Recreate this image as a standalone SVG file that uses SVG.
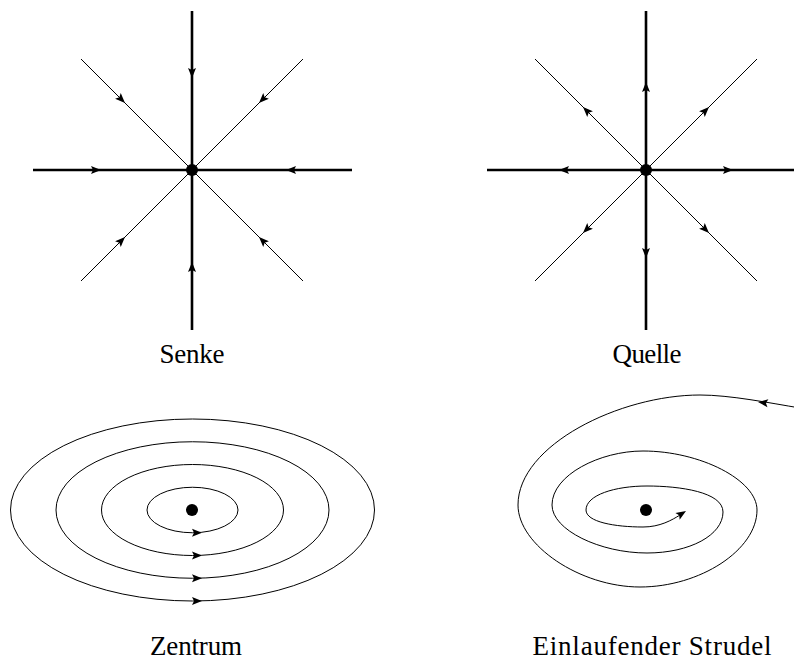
<svg xmlns="http://www.w3.org/2000/svg" xmlns:xlink="http://www.w3.org/1999/xlink" width="794" height="661" viewBox="0 0 794 661">
<style>
.thick{stroke:#000;stroke-width:2.6;fill:none}
.thin{stroke:#000;stroke-width:1;fill:none}
.dot{fill:#000}
.lbl{font-family:"Liberation Serif","DejaVu Serif",serif;font-size:27px;fill:#000;text-anchor:middle}
</style>
<defs>
<path id="ah" d="M0,0 L-10,-4 L-8,0 L-10,4 Z" fill="#000"/>
</defs>
<rect width="794" height="661" fill="#fff"/>
<g id="senke">
<g class="connectors">
<line class="thick" x1="192" y1="11" x2="192" y2="330"/>
<line class="thick" x1="33" y1="170" x2="352" y2="170"/>
<line class="thin" x1="81" y1="59" x2="303" y2="281"/>
<line class="thin" x1="303" y1="59" x2="81" y2="281"/>
<use xlink:href="#ah" transform="translate(192,78) rotate(90)"/>
<use xlink:href="#ah" transform="translate(192,262) rotate(-90)"/>
<use xlink:href="#ah" transform="translate(101,170)"/>
<use xlink:href="#ah" transform="translate(286,170) rotate(180)"/>
<use xlink:href="#ah" transform="translate(125,103) rotate(45)"/>
<use xlink:href="#ah" transform="translate(259,103) rotate(135)"/>
<use xlink:href="#ah" transform="translate(125,237) rotate(-45)"/>
<use xlink:href="#ah" transform="translate(259,237) rotate(-135)"/>
</g>
<circle class="dot" cx="192" cy="170" r="6"/>
<text class="lbl" x="192" y="363" textLength="65" lengthAdjust="spacing">Senke</text>
</g>
<g id="quelle">
<g class="connectors">
<line class="thick" x1="646" y1="11" x2="646" y2="330"/>
<line class="thick" x1="487" y1="170" x2="794" y2="170"/>
<line class="thin" x1="535" y1="59" x2="757" y2="281"/>
<line class="thin" x1="757" y1="59" x2="535" y2="281"/>
<use xlink:href="#ah" transform="translate(646,82) rotate(-90)"/>
<use xlink:href="#ah" transform="translate(646,258) rotate(90)"/>
<use xlink:href="#ah" transform="translate(559,170) rotate(180)"/>
<use xlink:href="#ah" transform="translate(733,170)"/>
<use xlink:href="#ah" transform="translate(583,107) rotate(-135)"/>
<use xlink:href="#ah" transform="translate(709,107) rotate(-45)"/>
<use xlink:href="#ah" transform="translate(583,233) rotate(135)"/>
<use xlink:href="#ah" transform="translate(709,233) rotate(45)"/>
</g>
<circle class="dot" cx="646" cy="170" r="6"/>
<text class="lbl" x="647" y="363" textLength="69" lengthAdjust="spacing">Quelle</text>
</g>
<g id="zentrum">
<g class="connectors">
<ellipse class="thin" cx="192.5" cy="510" rx="45.5" ry="22.75"/>
<ellipse class="thin" cx="192.5" cy="510" rx="91" ry="45.5"/>
<ellipse class="thin" cx="192.5" cy="510" rx="136.5" ry="68.25"/>
<ellipse class="thin" cx="192.5" cy="510" rx="182" ry="91"/>
<use xlink:href="#ah" transform="translate(202,532.75)"/>
<use xlink:href="#ah" transform="translate(202,555.5)"/>
<use xlink:href="#ah" transform="translate(202,578.25)"/>
<use xlink:href="#ah" transform="translate(202,601)"/>
</g>
<circle class="dot" cx="192" cy="510" r="6"/>
<text class="lbl" x="196" y="655" textLength="92" lengthAdjust="spacing">Zentrum</text>
</g>
<g id="strudel">
<g class="connectors">
<path class="thin" d="M800,408 C770,403 730,395 700,395 C620,395 518,445 518,505 C518,545 580,587 640,587 C700,587 757,550 757,510 C757,480 700,451 643,451 C600,451 552,475 552,505 C552,530 600,553 647,553 C690,553 723,535 723,512 C723,492 680,486 647,486 C615,486 586,495 586,510 C586,522 615,527 643,527 C660,527 672,520 680,515"/>
<use xlink:href="#ah" transform="translate(758,402) rotate(187)"/>
<use xlink:href="#ah" transform="translate(686,511) rotate(-32)"/>
</g>
<circle class="dot" cx="646" cy="510" r="6"/>
<text class="lbl" x="652" y="655" textLength="239" lengthAdjust="spacing">Einlaufender Strudel</text>
</g>
</svg>
